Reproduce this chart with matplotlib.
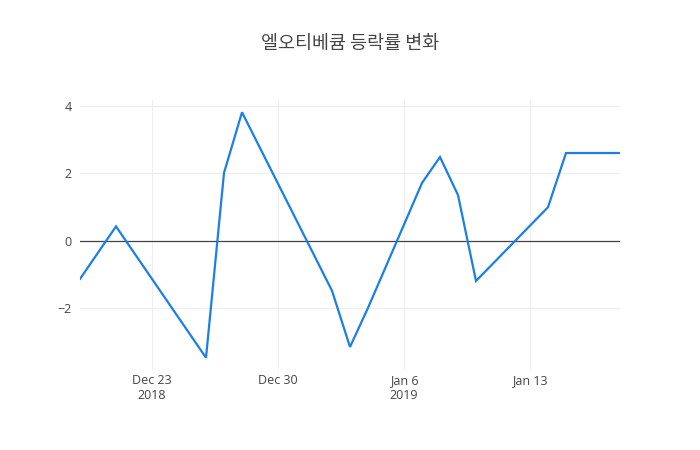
import matplotlib

matplotlib.use("Agg")
import matplotlib.dates as mdates
import matplotlib.pyplot as plt
import numpy as np
import pandas as pd

# 엘오티베큠 daily change rate (%)
dates = pd.to_datetime([
    "2018-12-19", "2018-12-21", "2018-12-26", "2018-12-27", "2018-12-28",
    "2019-01-02", "2019-01-03", "2019-01-04", "2019-01-07", "2019-01-08",
    "2019-01-09", "2019-01-10", "2019-01-14", "2019-01-15", "2019-01-18",
])
change = [-1.14, 0.42, -3.48, 2.01, 3.81,
          -1.49, -3.16, -2.0, 1.71, 2.48,
          1.35, -1.2, 0.99, 2.6, 2.6]

tick_dates = pd.to_datetime(["2018-12-23", "2018-12-30", "2019-01-06", "2019-01-13"])
tick_labels = ["Dec 23\n2018", "Dec 30", "Jan 6\n2019", "Jan 13"]
y_ticks = [-2, 0, 2, 4]

plt.rcParams["font.family"] = ["Open Sans", "Noto Sans CJK KR", "DejaVu Sans"]

fig = plt.figure(figsize=(7, 4.5), dpi=100)
ax = fig.add_axes([80 / 700, 80 / 450, 540 / 700, 270 / 450])

ax.plot(dates, change, color="#1a7fe8", lw=1.6, solid_joinstyle="miter", zorder=3)
ax.axhline(0, color="#444444", lw=0.9, zorder=2)

ax.set_xlim(dates[0], dates[-1])
lo, hi = min(change), max(change)
pad = (hi - lo) * 0.05
ax.set_ylim(lo - pad, hi + pad)

ax.set_xticks(tick_dates)
ax.set_xticklabels(tick_labels, linespacing=1.2)
ax.set_yticks(y_ticks)
ax.set_yticklabels([f"{v}".replace("-", "\u2212") for v in y_ticks])
ax.tick_params(length=0, labelsize=9, colors="#444444")
ax.tick_params(axis="x", pad=3)
ax.tick_params(axis="y", pad=6)
ax.grid(color="#eeeeee", lw=0.8)
ax.set_axisbelow(True)
for s in ax.spines.values():
    s.set_visible(False)

fig.text(0.5, 1 - 44 / 450, "엘오티베큠 등락률 변화", ha="center", va="center",
         fontsize=13.3, color="#444444", family=["Noto Sans CJK KR", "DejaVu Sans"])

fig.savefig("out.png", dpi=100)
